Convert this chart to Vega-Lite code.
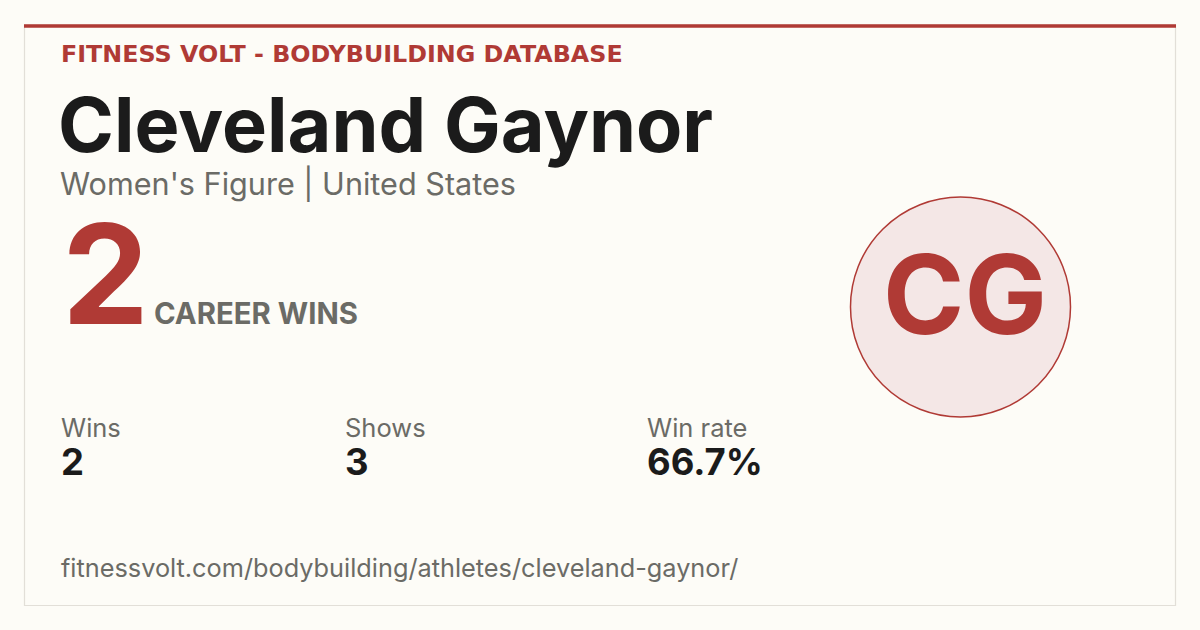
{
  "$schema": "https://vega.github.io/schema/vega-lite/v6.json",
  "width": 1200,
  "height": 630,
  "autosize": {"type": "none"},
  "padding": 0,
  "background": "#fdfcf7",
  "config": {"view": {"stroke": null}, "font": "Inter"},
  "layer": [
    {
      "data": {"values": [{"card": "frame"}]},
      "mark": {"type": "rect", "fill": "#fdfcf7", "stroke": "#e2dfd8", "strokeWidth": 1.2},
      "encoding": {
        "x": {"value": 24.5}, "x2": {"value": 1175.5},
        "y": {"value": 25}, "y2": {"value": 605.5}
      }
    },
    {
      "data": {"values": [{"card": "accent"}]},
      "mark": {"type": "rule", "stroke": "#b03a35", "strokeWidth": 3.5},
      "encoding": {
        "x": {"value": 24}, "x2": {"value": 1176},
        "y": {"value": 26}
      }
    },
    {
      "data": {"values": [{"label": "FITNESS VOLT - BODYBUILDING DATABASE"}]},
      "mark": {"type": "text", "align": "left", "baseline": "alphabetic", "font": "DejaVu Sans", "fontWeight": "bold", "fontSize": 23.8, "fill": "#b03a35"},
      "encoding": {"text": {"field": "label"}, "x": {"value": 61}, "y": {"value": 62}}
    },
    {
      "data": {"values": [{"name": "Cleveland Gaynor"}]},
      "mark": {"type": "text", "align": "left", "baseline": "alphabetic", "fontWeight": "bold", "fontSize": 75.6, "fill": "#1b1b1b"},
      "encoding": {"text": {"field": "name"}, "x": {"value": 58}, "y": {"value": 152}}
    },
    {
      "data": {"values": [{"division": "Women's Figure", "country": "United States"}]},
      "transform": [{"calculate": "datum.division + ' | ' + datum.country", "as": "line"}],
      "mark": {"type": "text", "align": "left", "baseline": "alphabetic", "fontSize": 30.6, "fill": "#6b6b66"},
      "encoding": {"text": {"field": "line"}, "x": {"value": 60}, "y": {"value": 194.5}}
    },
    {
      "data": {"values": [{"wins": 2}]},
      "mark": {"type": "text", "align": "left", "baseline": "alphabetic", "fontWeight": "bold", "fontSize": 138, "fill": "#b03a35"},
      "encoding": {"text": {"field": "wins"}, "x": {"value": 62}, "y": {"value": 324}}
    },
    {
      "data": {"values": [{"caption": "CAREER WINS"}]},
      "mark": {"type": "text", "align": "left", "baseline": "alphabetic", "fontWeight": "bold", "fontSize": 29.3, "fill": "#6b6b66"},
      "encoding": {"text": {"field": "caption"}, "x": {"value": 154}, "y": {"value": 324}}
    },
    {
      "data": {"values": [{"initials": "CG"}]},
      "mark": {"type": "point", "shape": "circle", "filled": true, "fill": "#f4e7e6", "stroke": "#b03a35", "strokeWidth": 1.5, "opacity": 1, "size": 48400},
      "encoding": {"x": {"value": 960.5}, "y": {"value": 307}}
    },
    {
      "data": {"values": [{"initials": "CG"}]},
      "mark": {"type": "text", "align": "center", "baseline": "alphabetic", "fontWeight": "bold", "fontSize": 110, "fill": "#b03a35"},
      "encoding": {"text": {"field": "initials"}, "x": {"value": 965}, "y": {"value": 334}}
    },
    {
      "data": {"values": [{"metric": "Wins", "value": "2"}]},
      "encoding": {"x": {"value": 61}},
      "layer": [
        {
          "mark": {"type": "text", "align": "left", "baseline": "alphabetic", "fontSize": 25.5, "fill": "#6b6b66"},
          "encoding": {"text": {"field": "metric"}, "y": {"value": 436.5}}
        },
        {
          "mark": {"type": "text", "align": "left", "baseline": "alphabetic", "fontWeight": "bold", "fontSize": 36.5, "fill": "#1b1b1b"},
          "encoding": {"text": {"field": "value"}, "y": {"value": 475}}
        }
      ]
    },
    {
      "data": {"values": [{"metric": "Shows", "value": "3"}]},
      "encoding": {"x": {"value": 345}},
      "layer": [
        {
          "mark": {"type": "text", "align": "left", "baseline": "alphabetic", "fontSize": 25.5, "fill": "#6b6b66"},
          "encoding": {"text": {"field": "metric"}, "y": {"value": 436.5}}
        },
        {
          "mark": {"type": "text", "align": "left", "baseline": "alphabetic", "fontWeight": "bold", "fontSize": 36.5, "fill": "#1b1b1b"},
          "encoding": {"text": {"field": "value"}, "y": {"value": 475}}
        }
      ]
    },
    {
      "data": {"values": [{"metric": "Win rate", "value": "66.7%"}]},
      "encoding": {"x": {"value": 647}},
      "layer": [
        {
          "mark": {"type": "text", "align": "left", "baseline": "alphabetic", "fontSize": 25.5, "fill": "#6b6b66"},
          "encoding": {"text": {"field": "metric"}, "y": {"value": 436.5}}
        },
        {
          "mark": {"type": "text", "align": "left", "baseline": "alphabetic", "fontWeight": "bold", "fontSize": 36.5, "fill": "#1b1b1b"},
          "encoding": {"text": {"field": "value"}, "y": {"value": 475}}
        }
      ]
    },
    {
      "data": {"values": [{"url": "fitnessvolt.com/bodybuilding/athletes/cleveland-gaynor/"}]},
      "mark": {"type": "text", "align": "left", "baseline": "alphabetic", "fontSize": 25.3, "fill": "#6b6b66"},
      "encoding": {"text": {"field": "url"}, "x": {"value": 61}, "y": {"value": 577}}
    }
  ]
}
